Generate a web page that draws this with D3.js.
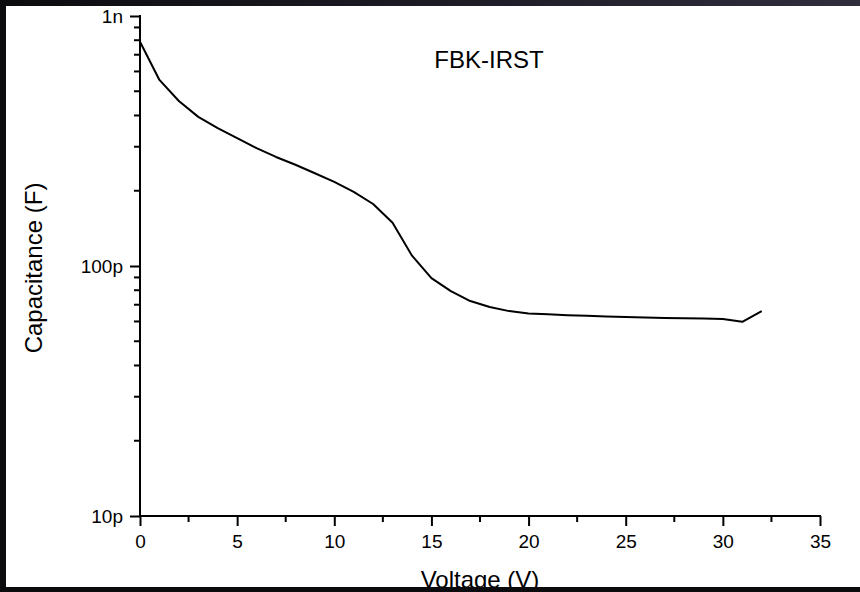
<!DOCTYPE html>
<html>
<head>
<meta charset="utf-8">
<script src="https://cdn.jsdelivr.net/npm/d3@7"></script>
<style>
  html, body { margin: 0; padding: 0; background: #ffffff; }
  svg { display: block; font-family: "Liberation Sans", Arial, sans-serif; }
</style>
</head>
<body>
<svg id="chart" width="860" height="592"></svg>
<script>
// ---- data ----
const voltages = [0,1,2,3,4,5,6,7,8,9,10,11,12,13,14,15,16,17,18,19,20,21,22,23,24,25,26,27,28,29,30,31,32];
const capacitancePF = [789,555,457,395,356,325,296,273,254,235,217,198,177,149,110,89.5,79.4,72.4,68.5,66.0,64.6,64.1,63.6,63.2,62.8,62.5,62.2,62.0,61.8,61.6,61.4,59.8,66.0];
const xTickValues = [0,5,10,15,20,25,30,35];
const xMinorTicks = [2.5,7.5,12.5,17.5,22.5,27.5,32.5];
const yTickValues = [1e-11,1e-10,1e-9];
const yTickLabels = ["10p","100p","1n"];
const yMinorTicks = [2e-11,3e-11,4e-11,5e-11,6e-11,7e-11,8e-11,9e-11,2e-10,3e-10,4e-10,5e-10,6e-10,7e-10,8e-10,9e-10];
const chartTitle = "FBK-IRST";
const xTitle = "Voltage (V)";
const yTitle = "Capacitance (F)";

const svg = d3.select("#chart");
const W = 860, H = 592;

const x = d3.scaleLinear().domain([0,35]).range([140,820]);
const y = d3.scaleLog().domain([1e-11,1e-9]).range([516,16]);

// frame borders (dark edges of the screenshot)
const defs = svg.append("defs");
const grad = defs.append("linearGradient").attr("id","topgrad").attr("x1","0").attr("x2","1").attr("y1","0").attr("y2","0");
grad.append("stop").attr("offset","0").attr("stop-color","#0c0c0f");
grad.append("stop").attr("offset","0.5").attr("stop-color","#1c1b24");
grad.append("stop").attr("offset","1").attr("stop-color","#302e3c");
svg.append("rect").attr("x",0).attr("y",0).attr("width",W).attr("height",6).attr("fill","url(#topgrad)");
svg.append("rect").attr("x",0).attr("y",0).attr("width",6).attr("height",H).attr("fill","#0c0c0e");

// major axes via d3-axis
const gx = svg.append("g").attr("transform","translate(0,516)")
  .call(d3.axisBottom(x).tickValues(xTickValues).tickSize(10).tickPadding(9).tickFormat(d3.format("d")));
const gy = svg.append("g").attr("transform","translate(140,0)")
  .call(d3.axisLeft(y).tickValues(yTickValues).tickSize(10).tickPadding(7)
    .tickFormat((d,i) => yTickLabels[i]));
[gx,gy].forEach(g => {
  g.select(".domain").remove();
  g.selectAll(".tick line").attr("stroke","#000").attr("stroke-width",2);
  g.selectAll("text").attr("fill","#000").style("font-size","19px")
    .style("font-family","'Liberation Sans', Arial, sans-serif");
});

// minor ticks
svg.append("g").selectAll("line").data(xMinorTicks).join("line")
  .attr("x1", d => x(d)).attr("x2", d => x(d))
  .attr("y1", y(1e-11)).attr("y2", y(1e-11) + 6)
  .attr("stroke","#000").attr("stroke-width",2);
svg.append("g").selectAll("line").data(yMinorTicks).join("line")
  .attr("x1", x(0) - 6).attr("x2", x(0))
  .attr("y1", d => y(d)).attr("y2", d => y(d))
  .attr("stroke","#000").attr("stroke-width",2);

// axis lines
svg.append("line").attr("x1",x(0)-1).attr("x2",x(35)+1).attr("y1",y(1e-11)).attr("y2",y(1e-11))
  .attr("stroke","#000").attr("stroke-width",2);
svg.append("line").attr("x1",x(0)).attr("x2",x(0)).attr("y1",y(1e-9)-1).attr("y2",y(1e-11)+1)
  .attr("stroke","#000").attr("stroke-width",2);

// curve
const pts = voltages.map((v,i) => [v, capacitancePF[i]*1e-12]);
svg.append("path").datum(pts)
  .attr("fill","none").attr("stroke","#000").attr("stroke-width",2).attr("stroke-linejoin","round")
  .attr("d", d3.line().x(d => x(d[0])).y(d => y(d[1])));

// titles
svg.append("text").attr("x",489).attr("y",68).attr("text-anchor","middle")
  .style("font-size","24px").attr("fill","#000").text(chartTitle);
svg.append("text").attr("x",480).attr("y",588).attr("text-anchor","middle")
  .style("font-size","24px").attr("fill","#000").text(xTitle);
svg.append("text").attr("transform","translate(42,268) rotate(-90)").attr("text-anchor","middle")
  .style("font-size","24px").attr("fill","#000").text(yTitle);

// bottom border on top of the clipped x title
svg.append("rect").attr("x",0).attr("y",587).attr("width",W).attr("height",5).attr("fill","#0b0b0d");
</script>
</body>
</html>
